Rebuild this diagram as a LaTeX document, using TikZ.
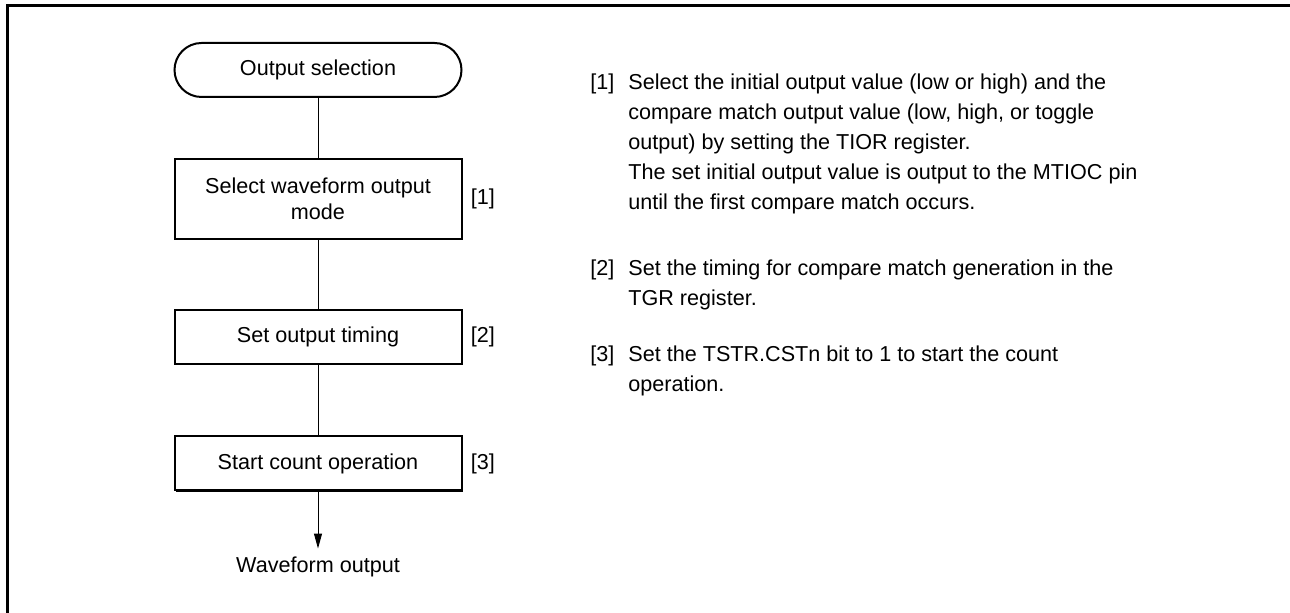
\documentclass[tikz,border=0pt]{standalone}
\usepackage{fontspec}
\setmainfont{Liberation Sans}
\usetikzlibrary{arrows.meta, positioning, shadows}

\tikzset{
  flowtext/.style={font=\fontsize{10.8}{13}\selectfont},
  notefont/.style={font=\fontsize{10.8}{15}\selectfont},
  termbox/.style={flowtext, draw, line width=1pt, rounded corners=13.5pt, minimum width=143.5pt, minimum height=27pt},
  stepbox/.style={flowtext, draw, line width=1pt, fill=white, align=center, minimum width=143.5pt, minimum height=27pt,
    drop shadow={shadow xshift=0.7pt, shadow yshift=-0.7pt, fill=black, opacity=1}},
  steplabel/.style={flowtext, right, inner sep=0pt},
  notetext/.style={notefont, anchor=north west, align=left, inner sep=0pt},
  link/.style={line width=0.5pt},
}

\begin{document}
\begin{tikzpicture}[x=0.5pt, y=-0.5pt]
  \useasboundingbox (0,0) rectangle (1290,613);
  % frame
  \draw[line width=1.5pt] (7,613) -- (7,6) -- (1290,6);

  % flow
  \node[termbox] (start) at (318,70) {Output selection};
  \node[stepbox, minimum height=40pt] (mode) at (318,199) {Select waveform output\\mode};
  \node[stepbox] (timing) at (318,337) {Set output timing};
  \node[stepbox] (count) at (318,463.5) {Start count operation};
  \node[flowtext, inner sep=0pt] (wave) at (318,567) {Waveform output};

  \node[steplabel] at ([xshift=4pt]mode.east) {[1]};
  \node[steplabel] at ([xshift=4pt]timing.east) {[2]};
  \node[steplabel] at ([xshift=4pt]count.east) {[3]};

  \draw[link] (start) -- (mode);
  \draw[link] (mode) -- (timing);
  \draw[link] (timing) -- (count);
  \draw[link, -{Triangle[length=7.5pt, width=4pt]}, shorten >=4pt] (count) -- (wave);

  % notes
  \node[notetext] (n1) at (590,73) {[1]};
  \node[notetext] (t1) at (628,73) {Select the initial output value (low or high) and the\\
    compare match output value (low, high, or toggle\\
    output) by setting the TIOR register.\\
    The set initial output value is output to the MTIOC pin\\
    until the first compare match occurs.};
  \node[notetext] (n2) at (590,259) {[2]};
  \node[notetext] (t2) at (628,259) {Set the timing for compare match generation in the\\
    TGR register.};
  \node[notetext] (n3) at (590,345) {[3]};
  \node[notetext] (t3) at (628,345) {Set the TSTR.CSTn bit to 1 to start the count\\
    operation.};
\end{tikzpicture}
\end{document}
